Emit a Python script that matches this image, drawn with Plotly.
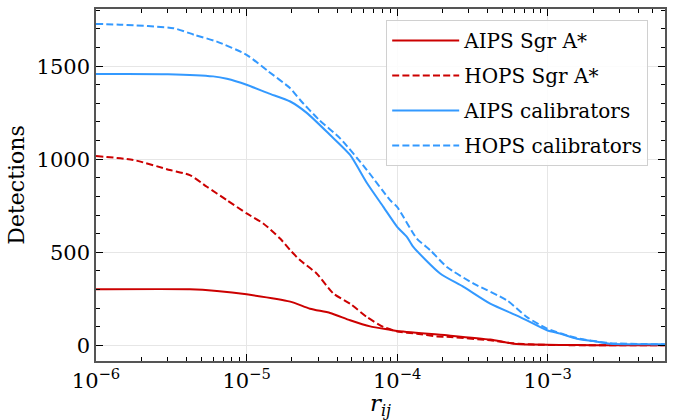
import plotly.graph_objects as go

# Cumulative number of detections above a given r_ij threshold
aips_sgra_r = [1e-6, 4.2e-6, 6.35e-6, 1e-5, 1.95e-5, 2.64e-5, 3.59e-5, 4.87e-5,
               6.62e-5, 8.98e-5, 1e-4, 2.14e-4, 4.15e-4, 5.93e-4, 8e-4, 1.2e-3,
               2e-3, 6e-3]
aips_sgra_n = [301, 301, 292, 274, 235, 197, 174, 135,
               102, 84, 77, 54, 31, 9, 4, 2,
               1, 1]

hops_sgra_r = [1e-6, 1.77e-6, 3.1e-6, 4.2e-6, 5.45e-6, 7.4e-6, 1e-5, 1.29e-5,
               1.67e-5, 1.95e-5, 2.27e-5, 2.92e-5, 3.78e-5, 4.87e-5, 6.3e-5,
               8.1e-5, 1e-4, 1.35e-4, 1.84e-4, 2.14e-4, 4.15e-4, 5.93e-4,
               8e-4, 1.5e-3, 6e-3]
hops_sgra_n = [1017, 996, 942, 915, 852, 780, 709, 655,
               574, 511, 457, 386, 278, 224, 152,
               99, 75, 63, 48, 46, 27, 11,
               4, 1, 0]

aips_cal_r = [1e-6, 3e-6, 6e-6, 7.4e-6, 1e-5, 1.4e-5, 1.95e-5, 2.51e-5, 3.59e-5,
              4.87e-5, 6.3e-5, 8.1e-5, 1e-4, 1.16e-4, 1.28e-4, 1.93e-4, 2.76e-4,
              4.15e-4, 6.56e-4, 9.9e-4, 1.21e-3, 1.56e-3, 2e-3, 2.6e-3, 6e-3]
aips_cal_n = [1458, 1457, 1445, 1432, 1400, 1354, 1310, 1249, 1130,
              1023, 872, 744, 637, 583, 529, 386, 314,
              224, 152, 81, 63, 36, 23, 9, 6]

hops_cal_r = [1e-6, 1.5e-6, 3.27e-6, 4.5e-6, 6.35e-6, 1e-5, 1.4e-5, 1.95e-5,
              2.27e-5, 3e-5, 4.18e-5, 6.3e-5, 8.98e-5, 1e-4, 1.35e-4, 1.66e-4,
              2.14e-4, 3.22e-4, 5.36e-4, 7.28e-4, 9.9e-4, 1.56e-3, 2.6e-3, 6e-3]
hops_cal_n = [1727, 1722, 1704, 1668, 1632, 1561, 1471, 1381,
              1318, 1215, 1112, 942, 780, 744, 574, 511,
              421, 332, 242, 152, 90, 39, 12, 6]

x_tick_vals = [1e-6, 1e-5, 1e-4, 1e-3]
x_tick_text = ["10<sup>\u22126</sup>", "10<sup>\u22125</sup>",
               "10<sup>\u22124</sup>", "10<sup>\u22123</sup>"]
y_tick_vals = [0, 500, 1000, 1500]

RED = "#cc0000"
BLUE = "#3399ff"
FONT = "DejaVu Serif"

fig = go.Figure()
series = [
    ("AIPS Sgr A*", aips_sgra_r, aips_sgra_n, RED, "solid"),
    ("HOPS Sgr A*", hops_sgra_r, hops_sgra_n, RED, "7px,3.2px"),
    ("AIPS calibrators", aips_cal_r, aips_cal_n, BLUE, "solid"),
    ("HOPS calibrators", hops_cal_r, hops_cal_n, BLUE, "7px,3.2px"),
]
for i, (name, r, n, color, dash) in enumerate(series):
    fig.add_trace(go.Scatter(
        x=r, y=n, mode="lines", name=name, legendgroup=f"g{i}",
        line=dict(color=color, width=2, dash=dash, shape="spline", smoothing=0.6),
    ))

axis_common = dict(
    showline=True, linecolor="#555555", linewidth=1.5, mirror="allticks",
    ticks="inside", ticklen=7, tickwidth=1.2, tickcolor="black",
    showgrid=True, gridcolor="#e6e6e6", gridwidth=1,
    zeroline=False, automargin=False,
    tickfont=dict(family=FONT, size=21, color="black"),
)

fig.update_xaxes(
    type="log", range=[-6, -2.221],
    tickvals=x_tick_vals, ticktext=x_tick_text,
    minor=dict(ticks="inside", ticklen=4, tickwidth=1, tickcolor="black",
               dtick="D1", showgrid=False),
    title=dict(text="<i>r</i><sub><i>ij</i></sub>",
               font=dict(family=FONT, size=23, color="black"), standoff=0),
    **axis_common,
)
fig.update_yaxes(
    range=[-84, 1807],
    tickvals=y_tick_vals,
    minor=dict(ticks="inside", ticklen=4, tickwidth=1, tickcolor="black",
               dtick=100, showgrid=False),
    title=dict(text="Detections", font=dict(family=FONT, size=22, color="black"),
               standoff=6),
    **axis_common,
)

fig.update_layout(
    width=685, height=420,
    margin=dict(l=96, r=20, t=9, b=59),
    paper_bgcolor="white", plot_bgcolor="white",
    font=dict(family=FONT, color="black"),
    showlegend=True,
    legend=dict(
        x=0.51, y=0.969, xanchor="left", yanchor="top",
        bgcolor="rgba(255,255,255,0.85)", bordercolor="#d0d0d0", borderwidth=1,
        font=dict(family=FONT, size=20, color="black"),
        itemwidth=67, tracegroupgap=6,
    ),
)

fig.write_html("out.html")
